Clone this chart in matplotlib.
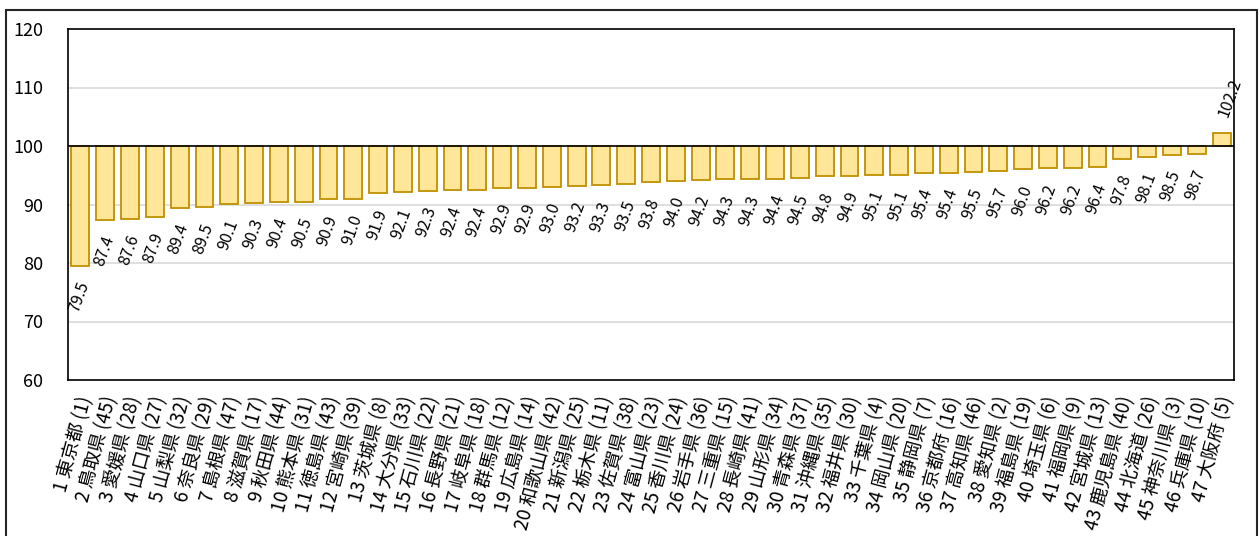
import matplotlib
matplotlib.use("Agg")
import matplotlib.pyplot as plt
from matplotlib.patches import Rectangle
import numpy as np

plt.rcParams['font.family'] = ['Noto Sans CJK JP', 'DejaVu Sans']

ranks = list(range(1, 48))
prefectures = ["東京都", "鳥取県", "愛媛県", "山口県", "山梨県", "奈良県", "島根県", "滋賀県",
               "秋田県", "熊本県", "徳島県", "宮崎県", "茨城県", "大分県", "石川県", "長野県",
               "岐阜県", "群馬県", "広島県", "和歌山県", "新潟県", "栃木県", "佐賀県", "富山県",
               "香川県", "岩手県", "三重県", "長崎県", "山形県", "青森県", "沖縄県", "福井県",
               "千葉県", "岡山県", "静岡県", "京都府", "高知県", "愛知県", "福島県", "埼玉県",
               "福岡県", "宮城県", "鹿児島県", "北海道", "神奈川県", "兵庫県", "大阪府"]
other_rank = [1, 45, 28, 27, 32, 29, 47, 17, 44, 31, 43, 39, 8, 33, 22, 21, 18, 12, 14, 42,
              25, 11, 38, 23, 24, 36, 15, 41, 34, 37, 35, 30, 4, 20, 7, 16, 46, 2, 19, 6,
              9, 13, 40, 26, 3, 10, 5]
values = [79.5, 87.4, 87.6, 87.9, 89.4, 89.5, 90.1, 90.3, 90.4, 90.5, 90.9, 91.0, 91.9, 92.1,
          92.3, 92.4, 92.4, 92.9, 92.9, 93.0, 93.2, 93.3, 93.5, 93.8, 94.0, 94.2, 94.3, 94.3,
          94.4, 94.5, 94.8, 94.9, 95.1, 95.1, 95.4, 95.4, 95.5, 95.7, 96.0, 96.2, 96.2, 96.4,
          97.8, 98.1, 98.5, 98.7, 102.2]
baseline = 100
yticks = [60, 70, 80, 90, 100, 110, 120]

labels = [f"{r} {p} ({o})" for r, p, o in zip(ranks, prefectures, other_rank)]

fig = plt.figure(figsize=(12.6, 5.36), dpi=100)
ax = fig.add_axes([68 / 1260, 1 - 380 / 536, (1234 - 68) / 1260, (380 - 29) / 536])

x = np.arange(len(values))
heights = [v - baseline for v in values]
ax.bar(x, heights, bottom=baseline, width=0.72, color="#FFE699",
       edgecolor="#BF9000", linewidth=1.3, zorder=3)

ax.set_xlim(-0.5, len(values) - 0.5)
ax.set_ylim(60, 120)
ax.set_yticks(yticks)
ax.tick_params(axis='y', length=0, labelsize=13, pad=18)
ax.tick_params(axis='x', length=0)
ax.set_xticks(x)
ax.set_xticklabels([])
for i, lab in enumerate(labels):
    ax.annotate(lab, xy=(i, 60), xycoords='data', xytext=(4, -12),
                textcoords='offset points', rotation=75, rotation_mode='anchor',
                ha='right', va='center', fontsize=13.5, annotation_clip=False)

for y in [70, 80, 90, 110]:
    ax.axhline(y, color="#D9D9D9", linewidth=1.2, zorder=1)
ax.axhline(baseline, color="black", linewidth=1.2, zorder=4)

for spine in ax.spines.values():
    spine.set_color("black")
    spine.set_linewidth(1.2)

for i, v in enumerate(values):
    if v < baseline:
        ax.annotate(f"{v:.1f}", xy=(i, v), xytext=(3, -12), textcoords='offset points',
                    rotation=70, rotation_mode='anchor', ha='right', va='center',
                    fontsize=11.5, zorder=5)
    else:
        ax.annotate(f"{v:.1f}", xy=(i, v), xytext=(1, 12), textcoords='offset points',
                    rotation=70, rotation_mode='anchor', ha='left', va='center',
                    fontsize=11.5, zorder=5)

# outer chart frame
fig.patches.append(Rectangle((6 / 1260, -0.05), (1257 - 6) / 1260, 1 - 10 / 536 + 0.05,
                             transform=fig.transFigure, fill=False,
                             edgecolor="#262626", linewidth=1.5))

fig.savefig("out.png", dpi=100, facecolor="white")
